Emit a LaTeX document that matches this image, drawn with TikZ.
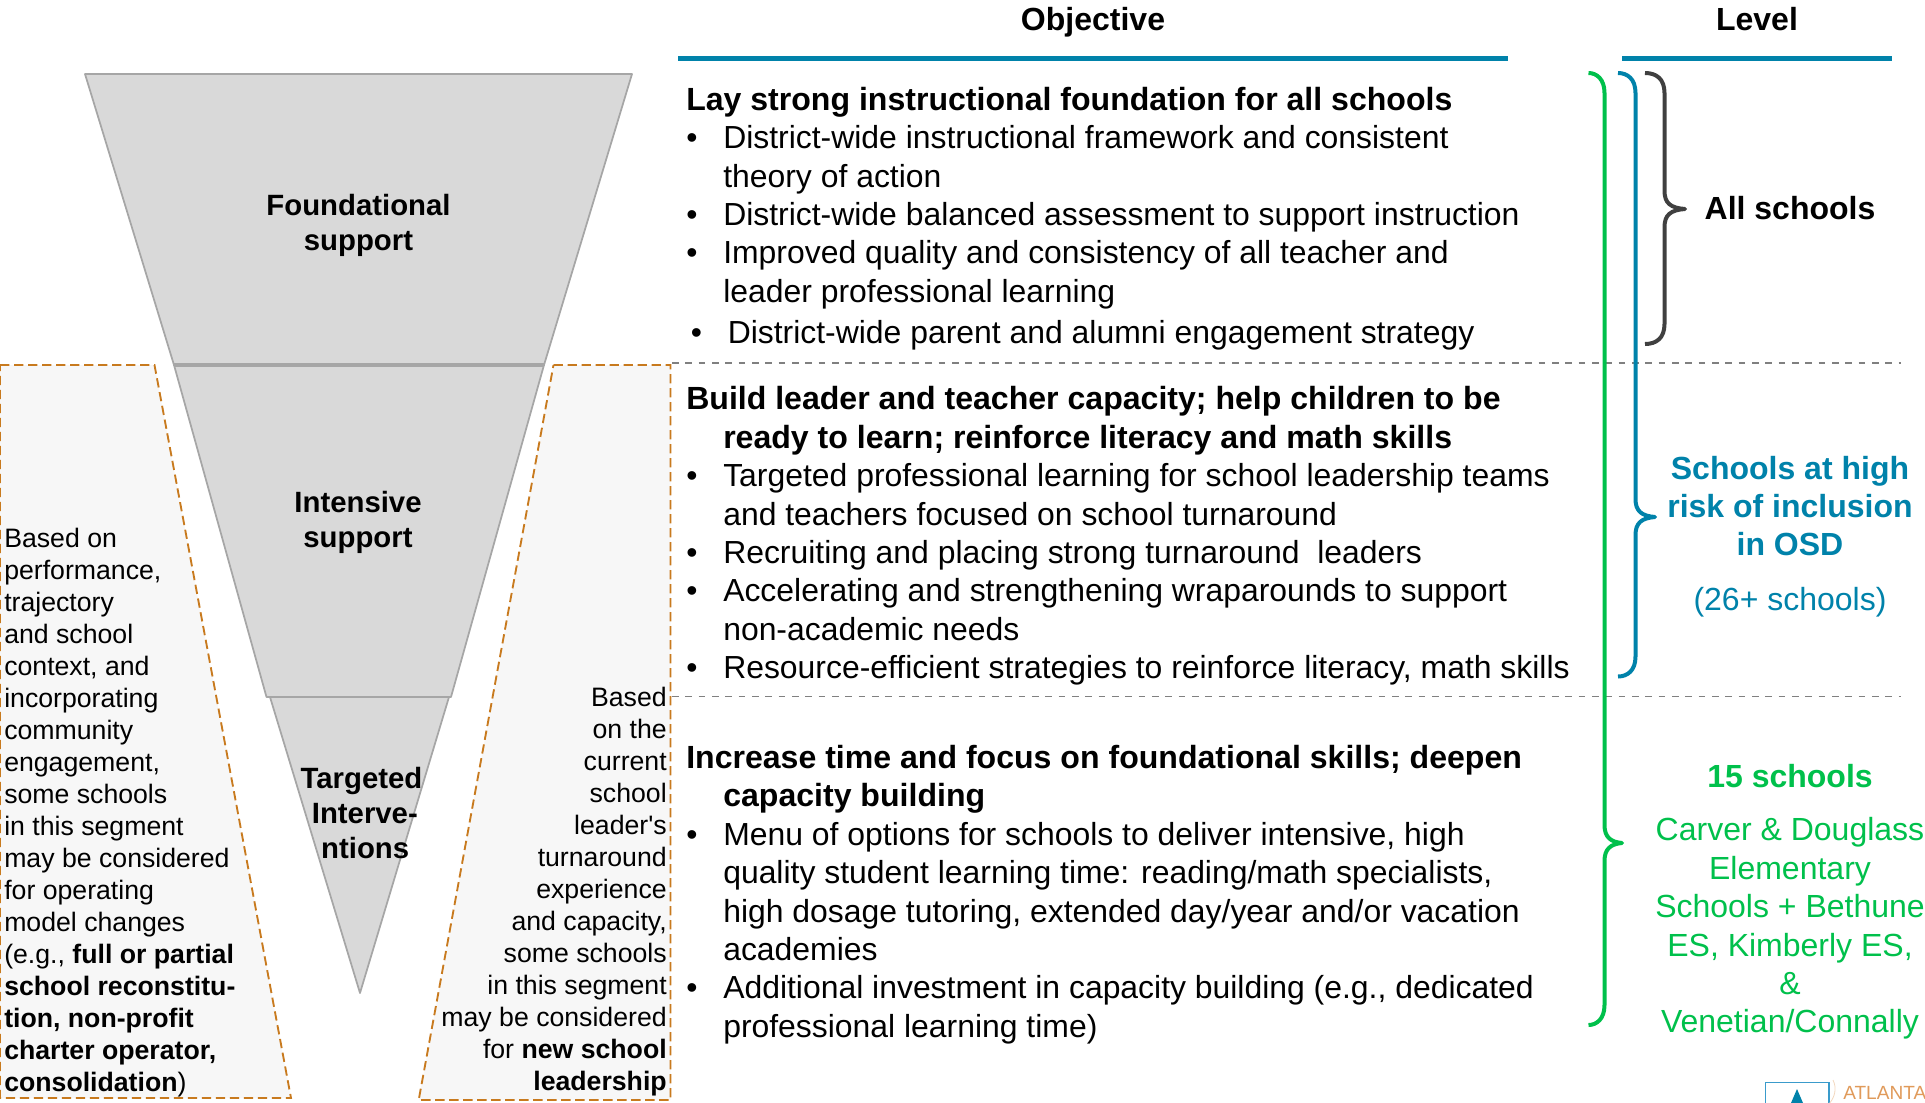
\documentclass[tikz,border=0pt]{standalone}
\usepackage{fontspec}
\setmainfont{Liberation Sans}[Ligatures=TeXOff]
\definecolor{hdrblue}{HTML}{0082AA}
\definecolor{brgreen}{HTML}{00C04B}
\definecolor{brdark}{HTML}{404040}
\definecolor{orangeedge}{HTML}{C87A1E}
\definecolor{panel}{HTML}{F7F7F7}
\definecolor{funnel}{HTML}{D9D9D9}
\definecolor{funneledge}{HTML}{A6A6A6}
\definecolor{logoorange}{HTML}{E09A5A}
\definecolor{logoblue}{HTML}{3A9BCB}
\newcommand{\bu}{\makebox[27.75pt][l]{•}}
\newcommand{\ind}{\hspace*{27.75pt}}
\newcommand{\ttl}[1]{{\fontsize{24.05}{28.8}\selectfont\bfseries #1}}
\newcommand{\bracepath}[7]{% colour, start x, spine x, tip x, top y, tip y, bottom y
  \draw[bracket,#1] (#2,#5) .. controls (#3-8,#5) and (#3,#5+6) .. (#3,#5+20)
    -- (#3,#6-18) .. controls (#3,#6-6) and (#3+6,#6-1) .. (#4,#6)
    .. controls (#3+6,#6+1) and (#3,#6+6) .. (#3,#6+18)
    -- (#3,#7-20) .. controls (#3,#7-6) and (#3-8,#7) .. (#2,#7);}
\tikzset{
  body/.style={inner sep=0pt,anchor=north west,align=left,font=\fontsize{23.93}{28.8}\selectfont},
  sidel/.style={inner sep=0pt,anchor=north west,align=left,font=\fontsize{20}{24}\selectfont},
  sider/.style={inner sep=0pt,anchor=north east,align=right,font=\fontsize{20}{24}\selectfont},
  funlabel/.style={inner sep=0pt,anchor=north,align=center,font=\fontsize{22}{26.25}\selectfont\bfseries},
  heading/.style={inner sep=0pt,anchor=base,font=\fontsize{24}{28.8}\selectfont\bfseries},
  level/.style={inner sep=0pt,anchor=north,align=center,font=\fontsize{24}{28.8}\selectfont},
  rule/.style={line width=4pt,hdrblue},
  sep/.style={line width=1.4pt,draw=gray,dash pattern=on 5pt off 5pt},
  bracket/.style={line width=3pt,line cap=butt,line join=round},
  segment/.style={fill=funnel,draw=funneledge,line width=1.3pt,line join=round},
  panelshape/.style={fill=panel,draw=orangeedge,line width=1.4pt,dash pattern=on 7pt off 3.5pt}
}
\begin{document}
\begin{tikzpicture}[x=0.75pt,y=-0.75pt]
\useasboundingbox (0,0) rectangle (1925,1103);
% side panels
\draw[panelshape] (0,365) -- (154.5,365) -- (291,1098) -- (0,1098) -- cycle;
\draw[panelshape] (553.5,365) -- (670.5,365) -- (670.5,1100) -- (418.7,1100) -- cycle;
% funnel
\draw[segment] (85,74) -- (632,74) -- (544,365) -- (174,365) -- cycle;
\draw[segment] (174,365) -- (544,365) -- (451,697) -- (266.5,697) -- cycle;
\draw[segment] (270,697) -- (449,697) -- (360,993) -- cycle;
\draw[funneledge,line width=2.6pt] (174,365) -- (544,365);
% headers
\node[heading] (hobj) at (1093,30) {Objective};
\node[heading] (hlev) at (1757,30) {Level};
\draw[rule] (678,58.5) -- (1508,58.5);
\draw[rule] (1622,58.5) -- (1892,58.5);
% separators
\draw[sep] (672,363) -- (1901,363);
\draw[sep] (672,696.5) -- (1901,696.5);
% braces
\bracepath{brgreen}{1588.5}{1604.5}{1622}{73}{843}{1025}
\bracepath{hdrblue}{1618}{1635.5}{1655}{73}{517}{676.5}
\bracepath{brdark}{1645}{1664.5}{1685}{73}{209}{344}
% funnel labels
\node[funlabel] (lf) at (358.5,191) {\strut Foundational\\support};
\node[funlabel] (li) at (358,487.5) {\strut Intensive\\support};
\node[funlabel] (lt) at (361.5,763.5) {\strut Targeted\\\hspace*{5pt}Interve-\\\hspace*{5.5pt}ntions};
% side text
\node[sidel] (tl) at (4,524.6) {\strut Based on\\performance,\\trajectory\\and school\\context, and\\incorporating\\community\\engagement,\\some schools\\in this segment\\may be considered\\for operating\\model changes\\(e.g., \textbf{full or partial}\\\textbf{school reconstitu-}\\\textbf{tion, non-profit}\\\textbf{charter operator,}\\\textbf{consolidation})};
\node[sider] (tr) at (667,684.3) {\strut Based\\on the\\current\\school\\leader's\\turnaround\\experience\\and capacity,\\some schools\\in this segment\\may be considered\\for \textbf{new school}\\\textbf{leadership}};
% objectives
\node[body] (s1) at (686,83.2) {\strut\ttl{Lay strong instructional foundation for all schools}\\
\bu District-wide instructional framework and consistent\\
\ind theory of action\\
\bu District-wide balanced assessment to support instruction\\
\bu Improved quality and consistency of all teacher and\\
\ind leader professional learning};
\node[body] (s1b) at (690.5,316.8) {\strut\bu District-wide parent and alumni engagement strategy};
\node[body] (s2) at (686,382.8) {\strut\ttl{Build leader and teacher capacity; help children to be}\\
\ind\ttl{ready to learn; reinforce literacy and math skills}\\
\bu Targeted professional learning for school leadership teams\\
\ind and teachers focused on school turnaround\\
\bu Recruiting and placing strong turnaround\ \ leaders\\
\bu Accelerating and strengthening wraparounds to support\\
\ind non-academic needs\\
\bu Resource-efficient strategies to reinforce literacy, math skills};
\node[body] (s3) at (686,741.3) {\strut\ttl{Increase time and focus on foundational skills; deepen}\\
\ind\ttl{capacity building}\\
\bu Menu of options for schools to deliver intensive, high\\
\ind quality student learning time: reading/math specialists,\\
\ind high dosage tutoring, extended day/year and/or vacation\\
\ind academies\\
\bu Additional investment in capacity building (e.g., dedicated\\
\ind professional learning time)};
% levels
\node[level] (l1) at (1790,192) {\strut\textbf{All schools}};
\node[level,text=hdrblue] (l2) at (1790,452) {\strut\textbf{Schools at high}\\\textbf{risk of inclusion}\\\textbf{in OSD}};
\node[level,text=hdrblue] (l2b) at (1790,583.5) {\strut(26+ schools)};
\node[level,text=brgreen] (l3) at (1790,760) {\strut\textbf{15 schools}};
\node[level,text=brgreen] (l3b) at (1790,813.8) {\strut Carver \& Douglass\\Elementary\\Schools + Bethune\\ES, Kimberly ES,\\\&\\Venetian/Connally};
% logo
\draw[logoblue,line width=1.1pt] (1829,1110) -- (1829,1082.5) -- (1765.5,1082.5) -- (1765.5,1110);
\fill[hdrblue] (1797,1089) -- (1806,1110) -- (1788,1110) -- cycle;
\draw[logoorange!40,line width=0.6pt] (1833,1080) .. controls (1837,1088) and (1835,1097) .. (1829,1104);
\node[inner sep=0pt,anchor=base west,text=logoorange,font=\fontsize{14.3}{16}\selectfont] (logo) at (1843,1099) {ATLANTA};
\end{tikzpicture}
\end{document}
